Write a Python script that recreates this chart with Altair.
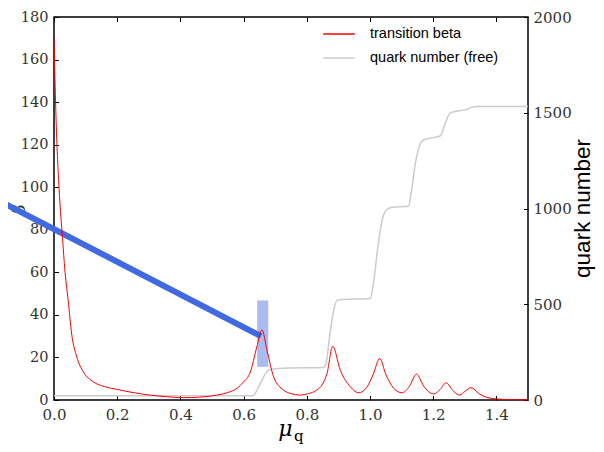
import altair as alt
import pandas as pd

# ---- data ----
beta_mu = [0.000, 0.005, 0.0085, 0.013, 0.019, 0.026, 0.035, 0.045, 0.056, 0.072,
           0.093, 0.124, 0.160, 0.199, 0.250, 0.304, 0.360, 0.410, 0.460, 0.515,
           0.550, 0.579, 0.600, 0.621, 0.642, 0.658, 0.674, 0.695, 0.726, 0.750,
           0.779, 0.805, 0.832, 0.850, 0.864, 0.882, 0.906, 0.938, 0.964, 0.990,
           1.010, 1.031, 1.050, 1.075, 1.101, 1.125, 1.147, 1.170, 1.202, 1.222,
           1.241, 1.262, 1.284, 1.300, 1.320, 1.345, 1.370, 1.400, 1.450, 1.500]
beta_val = [170, 140, 123, 108, 92, 78, 60, 46.7, 31, 20.3,
            13.2, 8.6, 6.3, 5.0, 3.5, 2.3, 1.5, 1.1, 1.3, 2.3,
            3.5, 5.5, 8.5, 13, 25, 33, 23.4, 10.9, 4.7, 3.0,
            2.3, 3.0, 4.7, 7.5, 12.5, 25.2, 14, 6.2, 3.4, 6,
            12, 19.5, 12, 5.5, 3.4, 6.5, 12.2, 6.5, 2.8, 5,
            8.1, 4.5, 2.3, 4, 5.8, 3, 1.2, 0.5, 0.15, 0.05]

qn_mu = [0.0, 0.62, 0.631, 0.645, 0.66, 0.672, 0.684, 0.72, 0.853, 0.862,
         0.872, 0.883, 0.895, 0.911, 1.001, 1.01, 1.025, 1.04, 1.054, 1.07,
         1.122, 1.13, 1.145, 1.16, 1.17, 1.2, 1.223, 1.235, 1.25, 1.26,
         1.30, 1.307, 1.32, 1.339, 1.5]
qn_val = [22, 22, 24, 60, 110, 145, 159, 166, 170, 200,
          330, 450, 519, 525, 530, 600, 800, 950, 996, 1006,
          1012, 1080, 1250, 1340, 1359, 1370, 1380, 1430, 1490, 1503,
          1515, 1517, 1528, 1532, 1532]

blue_mu = [-0.2, 0.655]
blue_beta = [95.7, 30.0]

band_mu = [0.643, 0.678]
band_beta = [15.6, 46.8]

x_ticks = [0.0, 0.2, 0.4, 0.6, 0.8, 1.0, 1.2, 1.4]
y_left_ticks = [0, 20, 40, 60, 80, 100, 120, 140, 160, 180]
y_right_ticks = [0, 500, 1000, 1500, 2000]

series_names = ["transition beta", "quark number (free)"]
series_colors = ["#ff0000", "#cccccc"]

red_df = pd.DataFrame({"mu": beta_mu, "beta": beta_val, "series": series_names[0]})
gray_df = pd.DataFrame({"mu": qn_mu, "n": qn_val, "series": series_names[1]})
blue_df = pd.DataFrame({"mu": blue_mu, "beta": blue_beta})
band_df = pd.DataFrame({"x1": [band_mu[0]], "x2": [band_mu[1]],
                        "y1": [band_beta[0]], "y2": [band_beta[1]]})

SERIF = "DejaVu Serif"
SANS = "Liberation Sans"
TS = 4.5

xs = alt.Scale(domain=[0, 1.5], nice=False, zero=False)
yl = alt.Scale(domain=[0, 180], nice=False)
yr = alt.Scale(domain=[0, 2000], nice=False)
cs = alt.Scale(domain=series_names, range=series_colors)

common = dict(domain=False, grid=False, ticks=True, tickSize=TS, tickColor="black",
              tickWidth=1, offset=-TS, labelFont=SERIF,
              labelColor="#333333", labelFlush=False, labelOverlap=False)

legend = alt.Legend(orient="none", legendX=268, legendY=0, title=None,
                    symbolType="stroke", symbolSize=1000, symbolStrokeWidth=1.5,
                    labelFont=SANS, labelFontSize=14.5, labelColor="black",
                    labelOffset=14, rowPadding=-5, padding=0)

blue = alt.Chart(blue_df).mark_line(color="#4169e1", strokeWidth=6, clip=False,
                                    strokeCap="butt").encode(
    x=alt.X("mu:Q", scale=xs, axis=None),
    y=alt.Y("beta:Q", scale=yl, axis=None),
)

band = alt.Chart(band_df).mark_rect(color="#4169e1", opacity=0.45).encode(
    x=alt.X("x1:Q", scale=xs, axis=None),
    x2="x2:Q",
    y=alt.Y("y1:Q", scale=yl, axis=None),
    y2="y2:Q",
)

gray = alt.Chart(gray_df).mark_line(strokeWidth=1.5, interpolate="monotone").encode(
    x=alt.X("mu:Q", scale=xs,
            axis=alt.Axis(orient="top", values=x_ticks, labels=False, title=None, **common)),
    y=alt.Y("n:Q", scale=yr,
            axis=alt.Axis(orient="right", values=y_right_ticks, format="d", labelPadding=5,
                          labelFontSize=15,
                          title="quark number", titleFont=SANS, titleFontSize=22.5,
                          titleFontWeight="normal", titleColor="black", titleAngle=270,
                          titleX=65.5, titleY=191, titleAlign="center",
                          titleBaseline="alphabetic", **common)),
    color=alt.Color("series:N", scale=cs, legend=legend),
)

red = alt.Chart(red_df).mark_line(strokeWidth=1, interpolate="monotone").encode(
    x=alt.X("mu:Q", scale=xs,
            axis=alt.Axis(orient="bottom", values=x_ticks, format=".1f", labelPadding=7.5,
                          labelFontSize=15,
                          title="μ", titleFont=SERIF, titleFontStyle="italic",
                          titleFontSize=22, titleFontWeight="normal", titleColor="black",
                          titleX=231, titleY=40, titleAlign="center",
                          titleBaseline="alphabetic", **common)),
    y=alt.Y("beta:Q", scale=yl,
            axis=alt.Axis(orient="left", values=y_left_ticks, labelPadding=6,
                          labelFontSize=14.5,
                          title="β", titleFont=SERIF, titleFontStyle="italic",
                          titleFontSize=18, titleFontWeight="normal", titleColor="#333333",
                          titleAngle=270, titleX=-34.5, titleY=192, titleAlign="center",
                          titleBaseline="alphabetic", **common)),
    color=alt.Color("series:N", scale=cs, legend=legend),
)

sub_q = alt.Chart(pd.DataFrame({"t": ["q"]})).mark_text(
    font=SERIF, fontSize=15, align="left", baseline="alphabetic", color="black"
).encode(x=alt.value(240), y=alt.value(424), text="t:N")

chart = alt.layer(blue, band, gray, red, sub_q).resolve_scale(
    y="independent"
).resolve_axis(x="independent").properties(
    width=474, height=383,
    autosize=alt.AutoSizeParams(type="none"),
    padding={"left": 46, "top": 9, "right": 68, "bottom": 44},
).configure_view(stroke="black", strokeWidth=1.5)

chart.save("out.html", embed_options={"renderer": "svg", "actions": False})
